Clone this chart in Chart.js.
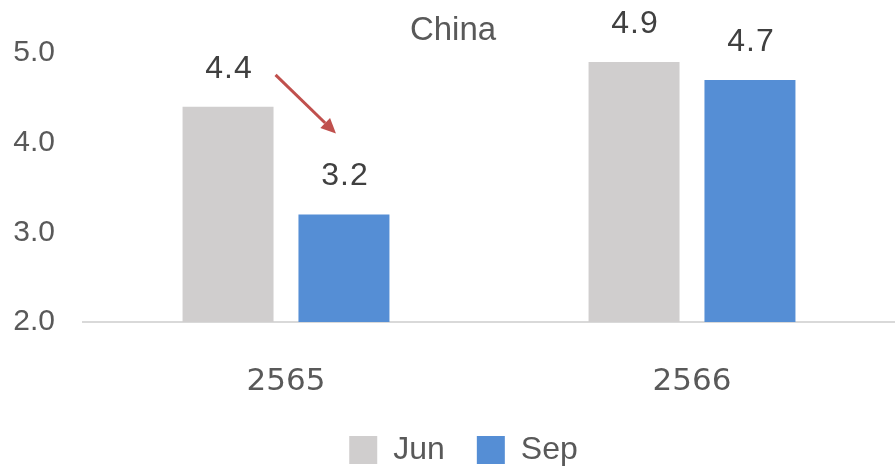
<!DOCTYPE html>
<html>
<head>
<meta charset="utf-8">
<script src="https://cdn.jsdelivr.net/npm/chart.js@4"></script>
<style>
  html, body { margin: 0; padding: 0; background: #fff; }
  #wrap { width: 895px; height: 468px; }
</style>
</head>
<body>
<div id="wrap"><canvas id="chart"></canvas></div>
<script>
// Chart data
const years = ['2565', '2566'];
const junValues = [4.4, 4.9];
const sepValues = [3.2, 4.7];
const yTicks = [2.0, 3.0, 4.0, 5.0];
const chartTitle = 'China';

// keep the legend short vertically while items stay far apart,
// and nudge it a little right like the original
const legendFit = {
    id: 'legendFit',
    beforeUpdate(chart) {
        const lg = chart.legend;
        if (lg && !lg._patched) {
            const fit = lg.fit;
            lg.fit = function () {
                fit.call(this);
                this.height = 66;
            };
            const draw = lg.draw;
            lg.draw = function () {
                this.ctx.save();
                this.ctx.translate(16, 0);
                draw.call(this);
                this.ctx.restore();
            };
            lg._patched = true;
        }
    }
};

// Value labels above bars + title + arrow
const extras = {
    id: 'extras',
    afterDatasetsDraw(chart) {
        const ctx = chart.ctx;
        const yScale = chart.scales.y;
        ctx.save();
        ctx.fillStyle = '#404040';
        ctx.font = '32px "Liberation Sans", Arial, sans-serif';
        ctx.letterSpacing = '1px';
        ctx.textAlign = 'center';
        ctx.textBaseline = 'middle';
        chart.data.datasets.forEach((ds, i) => {
            chart.getDatasetMeta(i).data.forEach((bar, j) => {
                ctx.fillText(ds.data[j].toFixed(1), bar.x + 1, bar.y - 38);
            });
        });

        // title
        ctx.letterSpacing = '0px';
        ctx.fillStyle = '#595959';
        ctx.font = '33px "Liberation Sans", Arial, sans-serif';
        ctx.fillText(chartTitle, 453, 31);

        // arrow from Jun label down to Sep label
        const junBar = chart.getDatasetMeta(0).data[0];
        const sepBar = chart.getDatasetMeta(1).data[0];
        const x1 = junBar.x + junBar.width / 2 + 2;
        const y1 = yScale.getPixelForValue(junValues[0]) - 32;
        const x2 = sepBar.x - 8;
        const y2 = yScale.getPixelForValue(sepValues[0]) - 81;
        const ang = Math.atan2(y2 - y1, x2 - x1);
        const len = 15, half = 7;
        ctx.strokeStyle = '#c0504d';
        ctx.fillStyle = '#c0504d';
        ctx.lineWidth = 3;
        ctx.beginPath();
        ctx.moveTo(x1, y1);
        ctx.lineTo(x2 - len * Math.cos(ang), y2 - len * Math.sin(ang));
        ctx.stroke();
        ctx.beginPath();
        ctx.moveTo(x2, y2);
        ctx.lineTo(x2 - len * Math.cos(ang) + half * Math.sin(ang), y2 - len * Math.sin(ang) - half * Math.cos(ang));
        ctx.lineTo(x2 - len * Math.cos(ang) - half * Math.sin(ang), y2 - len * Math.sin(ang) + half * Math.cos(ang));
        ctx.closePath();
        ctx.fill();
        ctx.restore();
    }
};

const ctx = document.getElementById('chart').getContext('2d');
new Chart(ctx, {
    type: 'bar',
    data: {
        labels: years,
        datasets: [
            {
                label: 'Jun',
                data: junValues,
                backgroundColor: '#d0cece',
                categoryPercentage: 0.571,
                barPercentage: 0.785
            },
            {
                label: 'Sep',
                data: sepValues,
                backgroundColor: '#558ed5',
                categoryPercentage: 0.571,
                barPercentage: 0.785
            }
        ]
    },
    options: {
        responsive: true,
        maintainAspectRatio: false,
        animation: false,
        layout: {
            padding: { top: 53, left: 0, right: 0, bottom: 0 }
        },
        plugins: {
            legend: {
                position: 'bottom',
                labels: {
                    boxWidth: 28,
                    boxHeight: 28,
                    padding: 32,
                    color: '#595959',
                    font: { size: 32, family: '"Liberation Sans", Arial, sans-serif' }
                }
            },
            tooltip: { enabled: false },
            title: { display: false }
        },
        scales: {
            x: {
                grid: { display: false, drawTicks: false },
                border: { display: true, color: '#d9d9d9', width: 2 },
                afterFit(scale) {
                    scale.height = 80;
                },
                ticks: {
                    color: '#595959',
                    padding: 41,
                    font: { size: 31, family: '"DejaVu Sans", sans-serif' }
                }
            },
            y: {
                min: 2,
                max: 5,
                afterBuildTicks(scale) {
                    scale.ticks = yTicks.map(v => ({ value: v }));
                },
                afterFit(scale) {
                    scale.width = 83;
                },
                grid: { display: false, drawTicks: false },
                border: { display: false },
                ticks: {
                    color: '#595959',
                    padding: 28,
                    font: { size: 30, family: '"Liberation Sans", Arial, sans-serif' },
                    callback: v => v.toFixed(1)
                }
            }
        }
    },
    plugins: [legendFit, extras]
});
</script>
</body>
</html>
